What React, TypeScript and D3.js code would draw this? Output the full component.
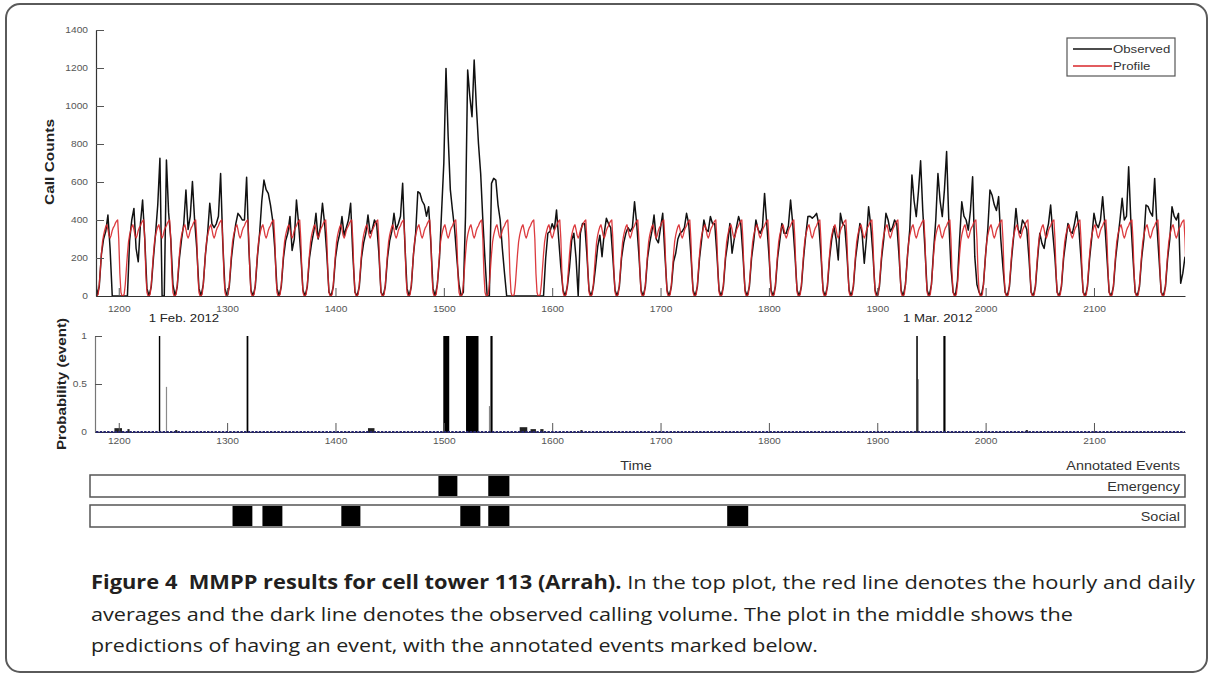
import React, { useEffect, useRef } from "react";
import * as d3 from "d3";

// hourly profile (average), one value per hour starting at 2am
const profileByHour = [20, 0, 0, 10, 60, 140, 220, 285, 320, 345, 365, 375, 350, 320, 305, 320, 345, 360, 370, 385, 395, 400, 300, 120];

// observed call counts, one row per day, every 2 hours starting at 2am
const firstDayHour = 1178;
const observedByDay = [
    [160, 0, 50, 220, 300, 340, 426, 250, 0, 0, 0, 0],
    [0, 0, 0, 0, 290, 400, 461, 250, 180, 380, 505, 300],
    [40, 0, 50, 200, 330, 480, 725, 0, 0, 716, 440, 300],
    [60, 0, 50, 200, 300, 380, 558, 350, 420, 602, 400, 250],
    [40, 0, 60, 220, 330, 488, 380, 360, 380, 420, 645, 280],
    [40, 0, 50, 200, 300, 380, 435, 420, 400, 400, 625, 260],
    [30, 0, 50, 210, 330, 500, 610, 560, 540, 480, 400, 250],
    [40, 0, 50, 200, 290, 330, 418, 240, 300, 505, 380, 220],
    [30, 0, 50, 200, 280, 340, 435, 300, 360, 488, 380, 220],
    [20, 0, 50, 200, 280, 330, 418, 320, 360, 400, 488, 220],
    [20, 0, 50, 200, 280, 330, 426, 330, 350, 400, 380, 230],
    [20, 0, 50, 200, 290, 340, 435, 350, 380, 420, 593, 280],
    [40, 0, 50, 220, 330, 549, 540, 500, 480, 420, 470, 280],
    [40, 0, 60, 200, 453, 700, 1198, 838, 560, 450, 350, 200],
    [60, 0, 20, 420, 1189, 1050, 944, 1242, 1000, 800, 645, 400],
    [190, 0, 0, 593, 619, 610, 480, 400, 250, 120, 0, 0],
    [0, 0, 0, 0, 0, 0, 0, 0, 0, 0, 0, 0],
    [0, 0, 0, 0, 200, 330, 340, 380, 350, 452, 300, 150],
    [30, 0, 50, 150, 295, 330, 200, 0, 330, 382, 380, 220],
    [30, 0, 50, 150, 260, 320, 207, 330, 409, 380, 360, 200],
    [30, 0, 50, 200, 280, 330, 360, 340, 360, 496, 380, 220],
    [30, 0, 50, 200, 280, 340, 426, 300, 280, 360, 435, 220],
    [30, 0, 50, 180, 225, 300, 330, 340, 360, 435, 380, 220],
    [30, 0, 50, 200, 300, 400, 350, 340, 418, 380, 380, 220],
    [30, 0, 50, 200, 280, 382, 225, 300, 360, 418, 380, 220],
    [30, 0, 50, 200, 290, 400, 350, 330, 360, 540, 380, 220],
    [30, 0, 50, 200, 290, 382, 330, 330, 370, 505, 380, 220],
    [30, 0, 50, 200, 320, 418, 420, 410, 420, 435, 380, 220],
    [30, 0, 50, 200, 300, 365, 300, 190, 435, 380, 370, 220],
    [30, 0, 50, 200, 290, 382, 330, 172, 300, 470, 370, 220],
    [30, 0, 50, 200, 300, 435, 400, 340, 360, 400, 380, 220],
    [30, 0, 60, 220, 350, 637, 500, 418, 550, 712, 450, 250],
    [30, 0, 60, 240, 400, 645, 500, 418, 560, 760, 400, 150],
    [20, 0, 80, 300, 496, 420, 400, 347, 450, 628, 207, 60],
    [20, 0, 60, 220, 350, 558, 530, 480, 450, 523, 300, 150],
    [20, 0, 50, 200, 320, 461, 350, 330, 400, 380, 350, 200],
    [20, 0, 50, 200, 330, 277, 250, 330, 380, 479, 330, 200],
    [20, 0, 50, 200, 290, 382, 340, 330, 380, 444, 360, 200],
    [20, 0, 50, 200, 310, 435, 380, 360, 400, 523, 380, 200],
    [20, 0, 50, 200, 300, 400, 514, 400, 420, 680, 400, 200],
    [20, 0, 50, 200, 300, 479, 470, 440, 420, 619, 380, 200],
    [20, 0, 50, 200, 300, 470, 420, 400, 435, 67, 120, 207],
];

const countTicks = [0, 200, 400, 600, 800, 1000, 1200, 1400];
const timeTicks = [1200, 1300, 1400, 1500, 1600, 1700, 1800, 1900, 2000, 2100];
const probTicks = [0, 0.5, 1];
const probTickLabels = ["0", "0.5", "1"];

// probability of event: [start hour, end hour, probability]
const probSpikes = [
    [1237, 1238.3, 1], [1318, 1319.6, 1], [1499.5, 1505, 1], [1520.5, 1532, 1],
    [1543, 1545, 1], [1936, 1937.4, 1], [1961, 1963, 1],
];
const probSpikesGray = [[1243.5, 1244.6, 0.47], [1541.6, 1542.6, 0.27], [1937.4, 1938.4, 0.55]];
const probBumps = [
    [1196, 1203, 0.04], [1208, 1210, 0.03], [1252, 1254, 0.02], [1430, 1436, 0.04],
    [1570, 1577, 0.05], [1580, 1585, 0.03], [1589, 1592, 0.03], [1626, 1628, 0.02], [2037, 2039, 0.02],
];

const dateHours = [1224, 1920];
const dateLabels = ["1 Feb. 2012", "1 Mar. 2012"];

// annotated events: [start hour, end hour]
const emergencyEvents = [[1495, 1512.5], [1541, 1560.5]];
const socialEvents = [[1305, 1323.3], [1332.6, 1351], [1405.4, 1423], [1515.2, 1533.7], [1541, 1560.5], [1761.5, 1780.9]];

const captionLines = [
    ["Figure 4\u00a0 MMPP results for cell tower 113 (Arrah).", " In the top plot, the red line denotes the hourly and daily"],
    ["", "averages and the dark line denotes the observed calling volume. The plot in the middle shows the"],
    ["", "predictions of having an event, with the annotated events marked below."],
];

export default function App() {
    const ref = useRef<SVGSVGElement>(null);

    useEffect(() => {
        const svg = d3.select(ref.current);
        svg.selectAll("*").remove();

        const font = "'Liberation Sans', Arial, sans-serif";
        const left = 96, right = 1185;
        const topY = 30, topBase = 296;
        const probTop = 336, probBase = 432;

        // the source picture is a bit wider than tall, stretch the text to match
        const stretch = (sel: any, k = 1.2) => sel.each(function (this: any) {
            const w = this.getComputedTextLength();
            d3.select(this).attr("textLength", w * k).attr("lengthAdjust", "spacingAndGlyphs");
        });

        // frame
        svg.append("rect")
            .attr("x", 6).attr("y", 4).attr("width", 1201).attr("height", 668)
            .attr("rx", 14).attr("fill", "white").attr("stroke", "#5a5a5a").attr("stroke-width", 2);

        const x = d3.scaleLinear().domain([1179, 2184]).range([left, right]);
        const y = d3.scaleLinear().domain([0, 1400]).range([topBase, topY]);
        const yp = d3.scaleLinear().domain([0, 1]).range([probBase, probTop]);

        // build the series
        const observed: [number, number][] = [];
        const profile: [number, number][] = [];
        observedByDay.forEach((row, d) => {
            row.forEach((v, i) => observed.push([firstDayHour + d * 24 + i * 2, v]));
            profileByHour.forEach((v, h) => profile.push([firstDayHour + d * 24 + h, v]));
        });

        svg.append("clipPath").attr("id", "topclip")
            .append("rect").attr("x", left).attr("y", topY - 10)
            .attr("width", right - left).attr("height", topBase - topY + 10);

        //----------- top plot -----------
        const line = d3.line<[number, number]>().x(d => x(d[0])).y(d => y(d[1]));
        const plot = svg.append("g").attr("clip-path", "url(#topclip)");
        plot.append("path").datum(observed)
            .attr("d", line).attr("fill", "none").attr("stroke", "#111").attr("stroke-width", 1.5)
            .attr("stroke-linejoin", "round");
        plot.append("path").datum(profile)
            .attr("d", line).attr("fill", "none").attr("stroke", "#d8262a").attr("stroke-width", 1.3)
            .attr("stroke-linejoin", "round").attr("opacity", 0.9);

        const styleAxis = (g: any) => {
            g.select(".domain").attr("stroke", "#333").attr("stroke-width", 1.2);
            g.selectAll(".tick line").attr("stroke", "#555");
            g.selectAll("text").attr("font-size", 8.5).attr("fill", "#555").attr("font-family", font);
            stretch(g.selectAll("text"));
        };

        const yAxisGroup = svg.append("g").attr("transform", `translate(${left},0)`)
            .call(d3.axisLeft(y).tickValues(countTicks).tickFormat(d3.format("d"))
                .tickSizeInner(-8).tickSizeOuter(0).tickPadding(8));
        styleAxis(yAxisGroup);

        const xAxisGroup = svg.append("g").attr("transform", `translate(0,${topBase})`)
            .call(d3.axisBottom(x).tickValues(timeTicks).tickFormat(d3.format("d")).tickSizeInner(-8).tickSizeOuter(0).tickPadding(10));
        styleAxis(xAxisGroup);

        svg.append("text").attr("transform", "translate(54,162) rotate(-90)")
            .attr("text-anchor", "middle").attr("font-family", font).attr("font-weight", "bold")
            .attr("font-size", 13).attr("fill", "#222").attr("textLength", 86).attr("lengthAdjust", "spacingAndGlyphs")
            .text("Call Counts");

        // legend
        const legend = svg.append("g");
        legend.append("rect").attr("x", 1067).attr("y", 38).attr("width", 108).attr("height", 38)
            .attr("fill", "white").attr("stroke", "#555").attr("stroke-width", 1.2);
        [["Observed", "#111"], ["Profile", "#d8262a"]].forEach(([name, color], i) => {
            const ly = 49 + i * 17;
            legend.append("line").attr("x1", 1073).attr("x2", 1112).attr("y1", ly).attr("y2", ly)
                .attr("stroke", color).attr("stroke-width", 1.4);
            stretch(legend.append("text").attr("x", 1113).attr("y", ly + 4)
                .attr("font-family", font).attr("font-size", 11).attr("fill", "#333").text(name));
        });

        //----------- probability plot -----------
        const bars = svg.append("g");
        bars.selectAll("rect.bump").data(probBumps).enter().append("rect")
            .attr("x", d => x(d[0])).attr("width", d => Math.max(1, x(d[1]) - x(d[0])))
            .attr("y", d => yp(d[2])).attr("height", d => probBase - yp(d[2])).attr("fill", "#222");
        bars.selectAll("rect.gray").data(probSpikesGray).enter().append("rect")
            .attr("x", d => x(d[0])).attr("width", d => Math.max(1, x(d[1]) - x(d[0])))
            .attr("y", d => yp(d[2])).attr("height", d => probBase - yp(d[2])).attr("fill", "#8a8a8a");
        bars.selectAll("rect.spike").data(probSpikes).enter().append("rect")
            .attr("x", d => x(d[0])).attr("width", d => Math.max(1.3, x(d[1]) - x(d[0])))
            .attr("y", d => yp(d[2])).attr("height", d => probBase - yp(d[2])).attr("fill", "#000");

        const pyAxis = svg.append("g").attr("transform", `translate(${left - 1},0)`)
            .call(d3.axisLeft(yp).tickValues(probTicks).tickFormat((d, i) => probTickLabels[i])
                .tickSizeInner(-7).tickSizeOuter(0).tickPadding(8));
        styleAxis(pyAxis);
        pyAxis.select(".domain").attr("stroke", "#777");

        const pxAxis = svg.append("g").attr("transform", `translate(0,${probBase})`)
            .call(d3.axisBottom(x).tickValues(timeTicks).tickFormat(d3.format("d")).tickSizeInner(-9).tickSizeOuter(0).tickPadding(6));
        styleAxis(pxAxis);

        // dotted baseline of the probability series
        svg.append("line").attr("x1", left).attr("x2", right).attr("y1", probBase).attr("y2", probBase)
            .attr("stroke", "#26266e").attr("stroke-width", 2).attr("stroke-dasharray", "2.5,1.2");

        svg.append("text").attr("transform", "translate(66,384) rotate(-90)")
            .attr("text-anchor", "middle").attr("font-family", font).attr("font-weight", "bold")
            .attr("font-size", 13).attr("fill", "#222").attr("textLength", 132).attr("lengthAdjust", "spacingAndGlyphs")
            .text("Probability (event)");

        dateLabels.forEach((label, i) => {
            stretch(svg.append("text").attr("x", x(dateHours[i]) + 4).attr("y", 322)
                .attr("font-family", font).attr("font-size", 11).attr("fill", "#222").text(label));
        });

        stretch(svg.append("text").attr("x", 636).attr("y", 470).attr("text-anchor", "middle")
            .attr("font-family", font).attr("font-size", 12).attr("fill", "#333").text("Time"));
        stretch(svg.append("text").attr("x", 1180).attr("y", 470).attr("text-anchor", "end")
            .attr("font-family", font).attr("font-size", 12).attr("fill", "#333").text("Annotated Events"));

        //----------- annotated events -----------
        [["Emergency", emergencyEvents, 475], ["Social", socialEvents, 505]].forEach(([name, events, top]: any) => {
            const g = svg.append("g");
            g.append("rect").attr("x", 90).attr("y", top).attr("width", 1095).attr("height", 22)
                .attr("fill", "white").attr("stroke", "#555").attr("stroke-width", 1.5);
            g.selectAll("rect.ev").data(events).enter().append("rect")
                .attr("x", (d: any) => x(d[0])).attr("width", (d: any) => x(d[1]) - x(d[0]))
                .attr("y", top + 1).attr("height", 20).attr("fill", "#000");
            stretch(g.append("text").attr("x", 1180).attr("y", top + 16).attr("text-anchor", "end")
                .attr("font-family", font).attr("font-size", 12).attr("fill", "#333").text(name));
        });

        //----------- caption -----------
        const widths = [1104, 982, 727];
        captionLines.forEach(([bold, rest], i) => {
            const t = svg.append("text").attr("x", 91).attr("y", 589 + i * 31.5)
                .attr("font-family", "'Open Sans', 'Noto Sans', sans-serif").attr("font-size", 19).attr("fill", "#231f20")
                .attr("textLength", widths[i]).attr("lengthAdjust", "spacingAndGlyphs");
            if (bold) t.append("tspan").attr("font-weight", "bold").text(bold);
            t.append("tspan").text(rest);
        });
    }, []);

    return (
        <div style={{ position: "absolute", left: 0, top: 0 }}>
            <svg ref={ref} width={1212} height={678} />
        </div>
    );
}
